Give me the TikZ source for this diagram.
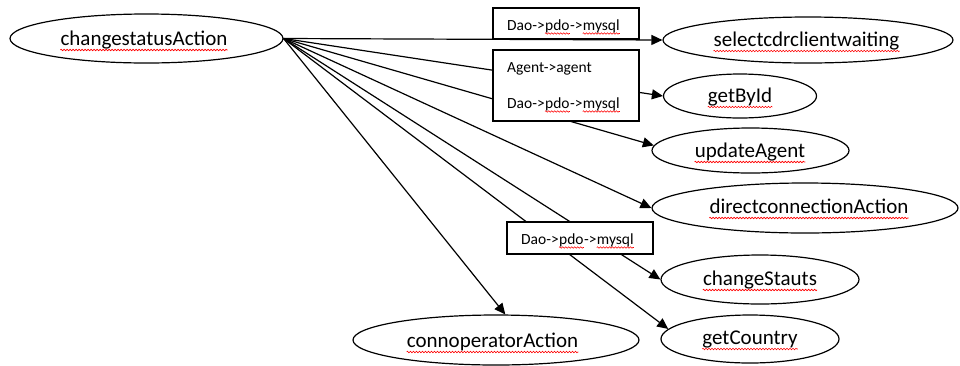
\documentclass[tikz,border=0pt]{standalone}
\usepackage{fontspec}
\setmainfont{Carlito}
\usetikzlibrary{shapes.geometric,arrows.meta,decorations.pathmorphing}

\begin{document}
\begin{tikzpicture}[x=1pt,y=-1pt,
  oval/.style={draw=black, line width=1.2pt, ellipse, inner sep=0pt},
  lbl/.style={inner sep=0pt, anchor=base, font=\fontsize{21}{25}\selectfont},
  boxtxt/.style={inner sep=0pt, anchor=base west, font=\fontsize{15.5}{18}\selectfont},
  notebox/.style={draw=black, line width=1.2pt, fill=white, rectangle, inner sep=0pt},
  link/.style={line width=1.2pt, -{Triangle[length=11pt,width=10pt]}},
  squiggle/.style={draw=red, line width=0.6pt, decorate,
    decoration={zigzag, segment length=3pt, amplitude=0.8pt}}
]
% page
\fill[white] (0,0) rectangle (960,365);
\useasboundingbox (0,0) rectangle (960,365);

% ellipses
\node[oval, minimum width=273pt, minimum height=49pt] (csa) at (146.5,38.5) {};
\node[oval, minimum width=290pt, minimum height=46pt] (scw) at (808,40) {};
\node[oval, minimum width=153pt, minimum height=44pt] (gbi) at (740,96) {};
\node[oval, minimum width=197pt, minimum height=45pt] (upa) at (750.5,150.5) {};
\node[oval, minimum width=306pt, minimum height=50pt] (dca) at (805,208) {};
\node[oval, minimum width=198pt, minimum height=49pt] (cst) at (760,279.5) {};
\node[oval, minimum width=178pt, minimum height=48pt] (gco) at (750,339) {};
\node[oval, minimum width=286pt, minimum height=50pt] (coa) at (496,340) {};

% ellipse labels
\node[lbl] (csa-t) at (144,45) {changestatusAction};
\node[lbl] (scw-t) at (806.5,46) {selectcdrclientwaiting};
\node[lbl] (gbi-t) at (740,102) {getById};
\node[lbl] (upa-t) at (750,157) {updateAgent};
\node[lbl] (dca-t) at (809,213) {directconnectionAction};
\node[lbl] (cst-t) at (760,285) {changeStauts};
\node[lbl] (gco-t) at (750,344) {getCountry};
\node[lbl] (coa-t) at (492.5,347) {connoperatorAction};

\foreach \n in {csa-t,scw-t,gbi-t,upa-t,dca-t,cst-t,gco-t,coa-t}
  \draw[squiggle] ([yshift=-5pt]\n.base west) -- ([yshift=-5pt]\n.base east);

% connectors
\draw[link] (csa.east) -- (scw.west);
\draw[link] (csa.east) -- (gbi.west);
\draw[link] (csa.east) -- (upa.177);
\draw[link] (csa.east) -- (dca.west);
\draw[link] (csa.east) -- (cst.west);
\draw[link] (csa.east) -- (gco.173);
\draw[link] (csa.east) -- (coa.70);

% note boxes
\node[notebox, minimum width=146pt, minimum height=31pt] (bx1) at (566,23.5) {};
\node[notebox, minimum width=146pt, minimum height=71pt] (bx2) at (566,85.5) {};
\node[notebox, minimum width=146pt, minimum height=32pt] (bx3) at (580,238) {};

% note texts
\node[boxtxt] (t1a) at (507,30) {Dao->};
\node[boxtxt] (t1b) at (t1a.base east) {pdo};
\node[boxtxt] (t1c) at (t1b.base east) {->};
\node[boxtxt] (t1d) at (t1c.base east) {mysql};

\node[boxtxt] (t2) at (507,72) {Agent->agent};
\node[boxtxt] (t3a) at (507,108) {Dao->};
\node[boxtxt] (t3b) at (t3a.base east) {pdo};
\node[boxtxt] (t3c) at (t3b.base east) {->};
\node[boxtxt] (t3d) at (t3c.base east) {mysql};

\node[boxtxt] (t4a) at (521,244) {Dao->};
\node[boxtxt] (t4b) at (t4a.base east) {pdo};
\node[boxtxt] (t4c) at (t4b.base east) {->};
\node[boxtxt] (t4d) at (t4c.base east) {mysql};

\foreach \n in {t1b,t1d,t3b,t3d,t4b,t4d}
  \draw[squiggle] ([yshift=-3.5pt]\n.base west) -- ([yshift=-3.5pt]\n.base east);
\end{tikzpicture}
\end{document}
